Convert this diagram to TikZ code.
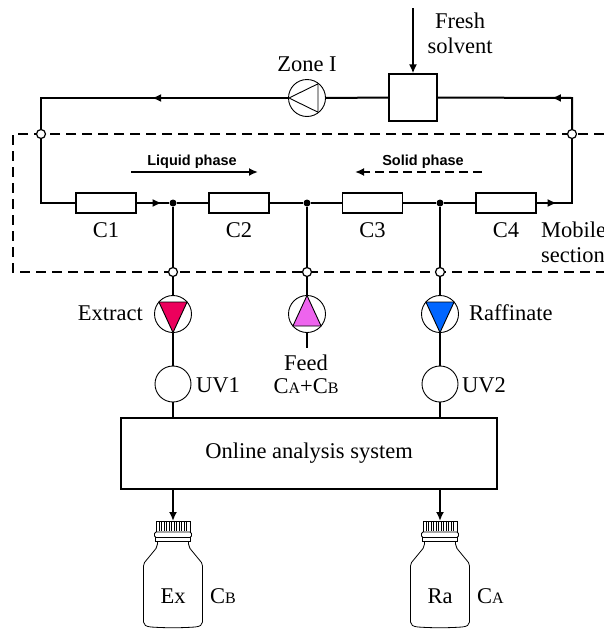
\documentclass[tikz,border=0pt]{standalone}
\usepackage{fontspec}
\setmainfont{Liberation Serif}
\newfontfamily\labelsans{Liberation Sans}
\usetikzlibrary{arrows.meta,decorations.markings}

\definecolor{extractred}{RGB}{236,0,92}
\definecolor{feedviolet}{RGB}{238,100,238}
\definecolor{raffblue}{RGB}{0,102,255}

% small capital used for concentrations C_A, C_B
\newcommand\concsub[1]{{\fontsize{16}{16}\selectfont #1}}

\tikzset{
  bottle/.pic={
    \draw[line width=0.8pt] (-17,0) rectangle (17,11);
    \foreach \s in {-14,-11.5,...,14.5} \draw[line width=0.5pt] (\s,1) -- (\s,10);
    \draw[line width=0.8pt, fill=white, rounded corners=1.5pt] (-18.5,11) rectangle (18.5,16.5);
    \draw[line width=0.8pt] (-17.5,16.5) rectangle (17.5,20.5);
    \draw[line width=0.8pt] (-15.5,20.5) -- (-15.5,23)
      .. controls (-15.5,25) and (-16,26) .. (-17,27.5) -- (-28.5,41.5)
      .. controls (-29.3,42.5) and (-29.5,43.5) .. (-29.5,45) -- (-29.5,101)
      .. controls (-29.5,104) and (-27,105.5) .. (-22,106)
      .. controls (-8,107) and (8,107) .. (22,106)
      .. controls (27,105.5) and (29.5,104) .. (29.5,101) -- (29.5,45)
      .. controls (29.5,43.5) and (29.3,42.5) .. (28.5,41.5) -- (17,27.5)
      .. controls (16,26) and (15.5,25) .. (15.5,23) -- (15.5,20.5);
  }
}

\begin{document}
\begin{tikzpicture}[x=1pt,y=-1pt,
  pipe/.style={line width=2pt, line join=miter},
  thinline/.style={line width=0.9pt},
  column/.style={draw, line width=1.4pt, minimum width=60pt, minimum height=20pt, inner sep=0, fill=white},
  valve/.style={circle, draw, fill=white, line width=1.2pt, minimum size=9pt, inner sep=0},
  joint/.style={circle, fill=black, minimum size=7pt, inner sep=0},
  pumpbody/.style={circle, draw, line width=0.9pt, minimum size=37pt, inner sep=0, fill=white},
  detector/.style={circle, draw, line width=0.9pt, minimum size=36pt, inner sep=0, fill=white},
  lbl/.style={font=\fontsize{22.5}{24}\selectfont, inner sep=0},
  phase/.style={font=\labelsans\bfseries\fontsize{14.5}{16}\selectfont, inner sep=0},
  tip/.style={-{Latex[length=9pt,width=8pt]}},
  flowmark/.style={postaction={decorate}, decoration={markings,
      mark=at position #1 with {\arrow{Latex[length=9pt,width=8pt]}}}},
]
\useasboundingbox (0,0) rectangle (604,632);

% moving section boundary
\draw[line width=1.5pt, dash pattern=on 10pt off 6pt] (620,134) -- (13,134) -- (13,272) -- (620,272);

% loop corners
\coordinate (tl) at (41,98);
\coordinate (bl) at (41,203);
\coordinate (tr) at (572,98);
\coordinate (br) at (572,203);

% columns and junctions
\node[column] (c1) at (106,203) {};
\node[column] (c2) at (239,203) {};
\node[column] (c3) at (372.5,203) {};
\node[column] (c4) at (506,203) {};
\node[joint] (j1) at (173,203) {};
\node[joint] (j2) at (307,203) {};
\node[joint] (j3) at (440,203) {};

% rotary valve ports
\node[valve] (vl) at (41,134) {};
\node[valve] (vr) at (572,134) {};
\node[valve] (vex) at (173,272) {};
\node[valve] (vfeed) at (307,272) {};
\node[valve] (vraf) at (440,272) {};

% zone I pump and fresh solvent mixer
\node[pumpbody] (pz) at (307,98) {};
\draw[thinline] (289,98) -- (318,83.8) -- (318,112.2) -- cycle;
\node[draw, line width=1.2pt, minimum width=48pt, minimum height=47pt, inner sep=0] (sb) at (413,97.5) {};
\coordinate (fsin) at (413,8);

% side stream pumps
\node[pumpbody] (pex) at (173,314) {};
\filldraw[thinline, fill=extractred] (158.9,302) -- (187.1,302) -- (173,332.5) -- cycle;
\node[pumpbody] (pfeed) at (307,314) {};
\filldraw[thinline, fill=feedviolet] (292.9,326) -- (321.1,326) -- (307,295.5) -- cycle;
\node[pumpbody] (praf) at (440,314) {};
\filldraw[thinline, fill=raffblue] (425.9,302) -- (454.1,302) -- (440,332.5) -- cycle;
\coordinate (feedend) at (307,348);

% detectors and analysis
\node[detector] (uv1) at (173,384) {};
\node[detector] (uv2) at (440,384) {};
\node[draw, line width=2pt, minimum width=376pt, minimum height=71pt, inner sep=0, lbl] (oas) at (309,453.5) {Online analysis system};

% collection bottles
\coordinate (capex) at (173,521);
\coordinate (capra) at (440,521);
\pic at (capex) {bottle};
\pic at (capra) {bottle};

% main loop
\draw[pipe, flowmark=136pt] (pz.west) -- (tl) -- (vl);
\draw[pipe] (vl) -- (bl) -- (c1.west);
\draw[pipe, flowmark=25pt] (c1.east) -- (j1);
\draw[pipe] (j1) -- (c2.west);
\draw[pipe] (c2.east) -- (j2);
\draw[pipe] (j2) -- (c3.west);
\draw[pipe] (c3.east) -- (j3);
\draw[pipe] (j3) -- (c4.west);
\draw[pipe, flowmark=20pt] (c4.east) -- (br) -- (vr);
\draw[pipe, flowmark=51pt] (vr) -- (tr) -- (sb.east);
\draw[pipe] (sb.west) -- (pz.east);
\draw[pipe, tip] (fsin) -- (sb.north);

% extract line
\draw[pipe] (j1) -- (vex);
\draw[pipe] (vex) -- (pex);
\draw[pipe] (pex) -- (uv1);
\draw[pipe] (uv1) -- (uv1 |- oas.north);
% feed line
\draw[pipe] (j2) -- (vfeed);
\draw[pipe] (vfeed) -- (pfeed);
\draw[pipe] (pfeed) -- (feedend);
% raffinate line
\draw[pipe] (j3) -- (vraf);
\draw[pipe] (vraf) -- (praf);
\draw[pipe] (praf) -- (uv2);
\draw[pipe] (uv2) -- (uv2 |- oas.north);
% to the bottles
\draw[pipe, tip] (capex |- oas.south) -- (capex);
\draw[pipe, tip] (capra |- oas.south) -- (capra);

% phase directions
\coordinate (lqs) at (131,172);
\coordinate (lqe) at (258,172);
\coordinate (sds) at (482,172);
\coordinate (sde) at (355,172);
\draw[line width=1.8pt, tip] (lqs) -- (lqe);
\draw[line width=1.8pt, tip, dash pattern=on 9pt off 5pt] (sds) -- (sde);
\node[phase, anchor=base] (lqt) at (192,165) {Liquid phase};
\node[phase, anchor=base] (sdt) at (423,165) {Solid phase};

% labels
\node[lbl, anchor=base] (lz) at (307,71) {Zone I};
\node[lbl, anchor=base] (lf1) at (460,28) {Fresh};
\node[lbl, anchor=base] (lf2) at (460,53) {solvent};
\node[lbl, anchor=base] (lc1) at (106,237) {C1};
\node[lbl, anchor=base] (lc2) at (239,237) {C2};
\node[lbl, anchor=base] (lc3) at (372.5,237) {C3};
\node[lbl, anchor=base] (lc4) at (506,237) {C4};
\node[lbl, anchor=base west] (lm1) at (541,237) {Mobile};
\node[lbl, anchor=base west] (lm2) at (541,262) {section};
\node[lbl, anchor=base east] (lex) at (143,320) {Extract};
\node[lbl, anchor=base west] (lra) at (469,320) {Raffinate};
\node[lbl, anchor=base] (lfd) at (306,370) {Feed};
\node[lbl, anchor=base] (lfc) at (306,393) {C\concsub{A}+C\concsub{B}};
\node[lbl, anchor=base west] (luv1) at (196,392) {UV1};
\node[lbl, anchor=base west] (luv2) at (462,392) {UV2};
\node[lbl, anchor=base] (lbex) at (173,603) {Ex};
\node[lbl, anchor=base] (lbra) at (440,603) {Ra};
\node[lbl, anchor=base west] (lcb) at (210,603) {C\concsub{B}};
\node[lbl, anchor=base west] (lca) at (477,603) {C\concsub{A}};
\end{tikzpicture}
\end{document}
